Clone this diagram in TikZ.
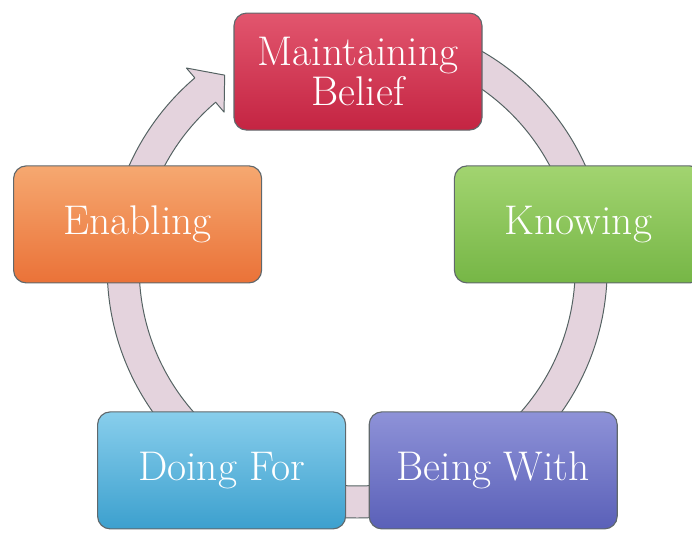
\documentclass[tikz,border=0pt]{standalone}
\definecolor{ringfill}{RGB}{228,211,221}
\definecolor{ringedge}{RGB}{84,98,98}
\definecolor{boxedge}{RGB}{96,104,108}
\definecolor{redtop}{RGB}{226,86,110}
\definecolor{redbot}{RGB}{196,36,66}
\definecolor{greentop}{RGB}{162,212,112}
\definecolor{greenbot}{RGB}{118,182,70}
\definecolor{orangetop}{RGB}{246,168,112}
\definecolor{orangebot}{RGB}{234,114,56}
\definecolor{bluetop}{RGB}{136,206,236}
\definecolor{bluebot}{RGB}{60,160,206}
\definecolor{violettop}{RGB}{142,146,216}
\definecolor{violetbot}{RGB}{90,96,184}
\begin{document}
\begin{tikzpicture}[
  stage/.style={rounded corners=9pt, minimum width=6.2cm, minimum height=2.925cm,
    draw=boxedge, line width=0.8pt, text=white, align=center,
    font=\fontsize{29.5}{28}\selectfont}]
\clip (0,0) rectangle (17.3,13.4);

% ring with its arrow head at the upper left
\begin{scope}[shift={(8.93,6.7)}]
\filldraw[fill=ringfill, draw=ringedge, line width=0.7pt, line join=round]
  (90:6.25) arc[start angle=90, end angle=-229.5, radius=6.25]
  -- (130.5:6.575) -- (124.5:5.85) -- (130.5:5.125)
  -- (130.5:5.45) arc[start angle=-229.5, end angle=90, radius=5.45] -- cycle;
\end{scope}

% the five stages
\node[stage, top color=redtop, bottom color=redbot] (belief) at (8.95,11.61) {Maintaining\\Belief};
\node[stage, top color=greentop, bottom color=greenbot] (knowing) at (14.46,7.79) {Knowing};
\node[stage, top color=violettop, bottom color=violetbot] (being) at (12.33,1.64) {Being With};
\node[stage, top color=bluetop, bottom color=bluebot] (doing) at (5.54,1.64) {Doing For};
\node[stage, top color=orangetop, bottom color=orangebot] (enabling) at (3.44,7.79) {Enabling};
\end{tikzpicture}
\end{document}
